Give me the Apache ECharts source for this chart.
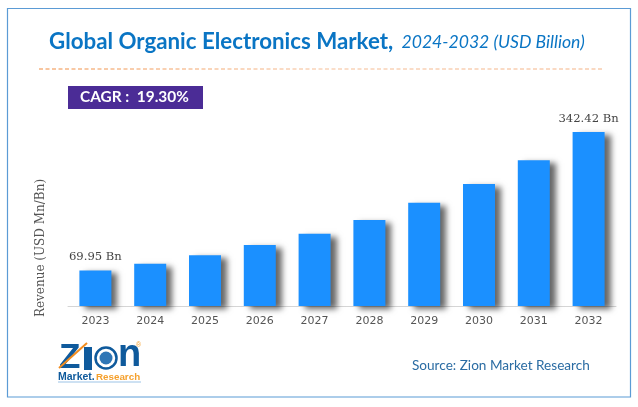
<!DOCTYPE html>
<html><head><meta charset="utf-8">
<style>html,body{margin:0;padding:0;background:#fff}#c{width:638px;height:407px}</style>
<script src="https://cdn.jsdelivr.net/npm/echarts@6/dist/echarts.min.js"></script>
</head><body><div id="c"></div>
<script>
const categories = ['2023','2024','2025','2026','2027','2028','2029','2030','2031','2032'];
const values = [69.95,83,100,120,142,169,203,240,287,342.42];
const labelledYears = ['2023','2032'];
const titleMain = 'Global Organic Electronics Market,';
const titleSub = '  2024-2032 (USD Billion)';
const cagrText = 'CAGR :  19.30%';
const sourceText = 'Source: Zion Market Research';
const yName = 'Revenue (USD Mn/Bn)';

const chart = echarts.init(document.getElementById('c'), null, {renderer:'canvas'});
chart.setOption({
  animation:false,
  backgroundColor:'#fff',
  title:{
    left:44, top:26,
    text:'{a|'+titleMain+'}{b|'+titleSub+'}',
    textStyle:{fontWeight:'normal',rich:{
      a:{fontFamily:'Lato',fontWeight:'bold',fontSize:22.3,color:'#0A75C4'},
      b:{fontFamily:'Lato',fontStyle:'italic',fontWeight:'normal',fontSize:17.6,color:'#0A75C4'}
    }}
  },
  grid:{left:68,right:22,top:132,height:174},
  xAxis:{
    type:'category',data:categories,
    axisTick:{show:false},
    axisLine:{lineStyle:{color:'#d5d5d5',width:1}},
    axisLabel:{fontFamily:'DejaVu Sans',fontSize:11,color:'#555',margin:10}
  },
  yAxis:{type:'value',min:0,max:342.42,show:false},
  series:[{
    type:'bar',barWidth:32,
    data:values.map((v,i)=>({
      value:v,
      label:{show:labelledYears.includes(categories[i])}
    })),
    itemStyle:{color:'#1B90FF',shadowColor:'rgba(0,0,0,0.6)',shadowBlur:6,shadowOffsetX:6,shadowOffsetY:3},
    label:{position:'top',distance:7,fontFamily:'DejaVu Serif',fontSize:11.6,color:'#444',
      formatter:p=>p.value+' Bn'}
  }],
  graphic:[
    {type:'rect',shape:{x:7.5,y:8.5,width:623,height:388.5},style:{fill:'none',stroke:'#5B9BD5',lineWidth:1.2},z:-1},
    {type:'line',shape:{x1:39,y1:69,x2:603,y2:69},
      style:{lineWidth:1,lineDash:[4,2.5],stroke:{type:'linear',x:0,y:0,x2:1,y2:0,colorStops:[
        {offset:0,color:'#F08A3C'},{offset:0.5,color:'#F6BE96'},{offset:1,color:'#F4B183'}]}}},
    {type:'rect',shape:{x:68,y:86,width:135,height:23},style:{fill:'#4B2C96'}},
    {type:'text',x:80,y:97.5,style:{text:cagrText,fontFamily:'Lato',fontWeight:'bold',fontSize:15.4,fill:'#fff',textVerticalAlign:'middle'}},
    {type:'text',x:41,y:248,rotation:Math.PI/2,style:{text:yName,fontFamily:'DejaVu Serif',fontSize:12,fill:'#555',textAlign:'center',textVerticalAlign:'middle'}},
    {type:'text',x:412,y:366,style:{text:sourceText,fontFamily:'Lato',fontSize:13.6,fill:'#2B6CA3',textVerticalAlign:'middle'}},
    {type:'text',x:59,y:358,style:{text:'Z',fontFamily:'Liberation Sans',fontWeight:'bold',fontSize:35,fill:'#0F5A9C',textVerticalAlign:'middle'}},
    {type:'rect',shape:{x:84,y:347,width:8,height:23},style:{fill:'#0F5A9C'}},
    {type:'circle',shape:{cx:106,cy:358,r:10.5},style:{fill:'#fff',stroke:'#0F5A9C',lineWidth:2.5}},
    {type:'circle',shape:{cx:106,cy:358,r:6.5},style:{fill:'#2E76B6'}},
    {type:'text',x:118,y:356,style:{text:'n',fontFamily:'Liberation Sans',fontWeight:'bold',fontSize:38,fill:'#0F5A9C',textVerticalAlign:'middle'}},
    {type:'line',shape:{x1:59,y1:368,x2:87,y2:343},style:{stroke:'#F28C1E',lineWidth:2}},
    {type:'text',x:58,y:377,style:{text:'Market.',fontFamily:'Liberation Sans',fontWeight:'bold',fontSize:10.5,fill:'#0F5A9C',textVerticalAlign:'middle'}},
    {type:'text',x:96,y:377,style:{text:'Research',fontFamily:'Liberation Sans',fontWeight:'bold',fontSize:9.8,fill:'#F5A02C',textVerticalAlign:'middle'}},
    {type:'line',shape:{x1:58,y1:382,x2:141,y2:382},style:{stroke:'#9CC3E6',lineWidth:1}},
    {type:'text',x:136,y:345,style:{text:'®',fontFamily:'Liberation Sans',fontSize:7,fill:'#F5A02C',textVerticalAlign:'middle'}}
  ]
});
</script></body></html>
